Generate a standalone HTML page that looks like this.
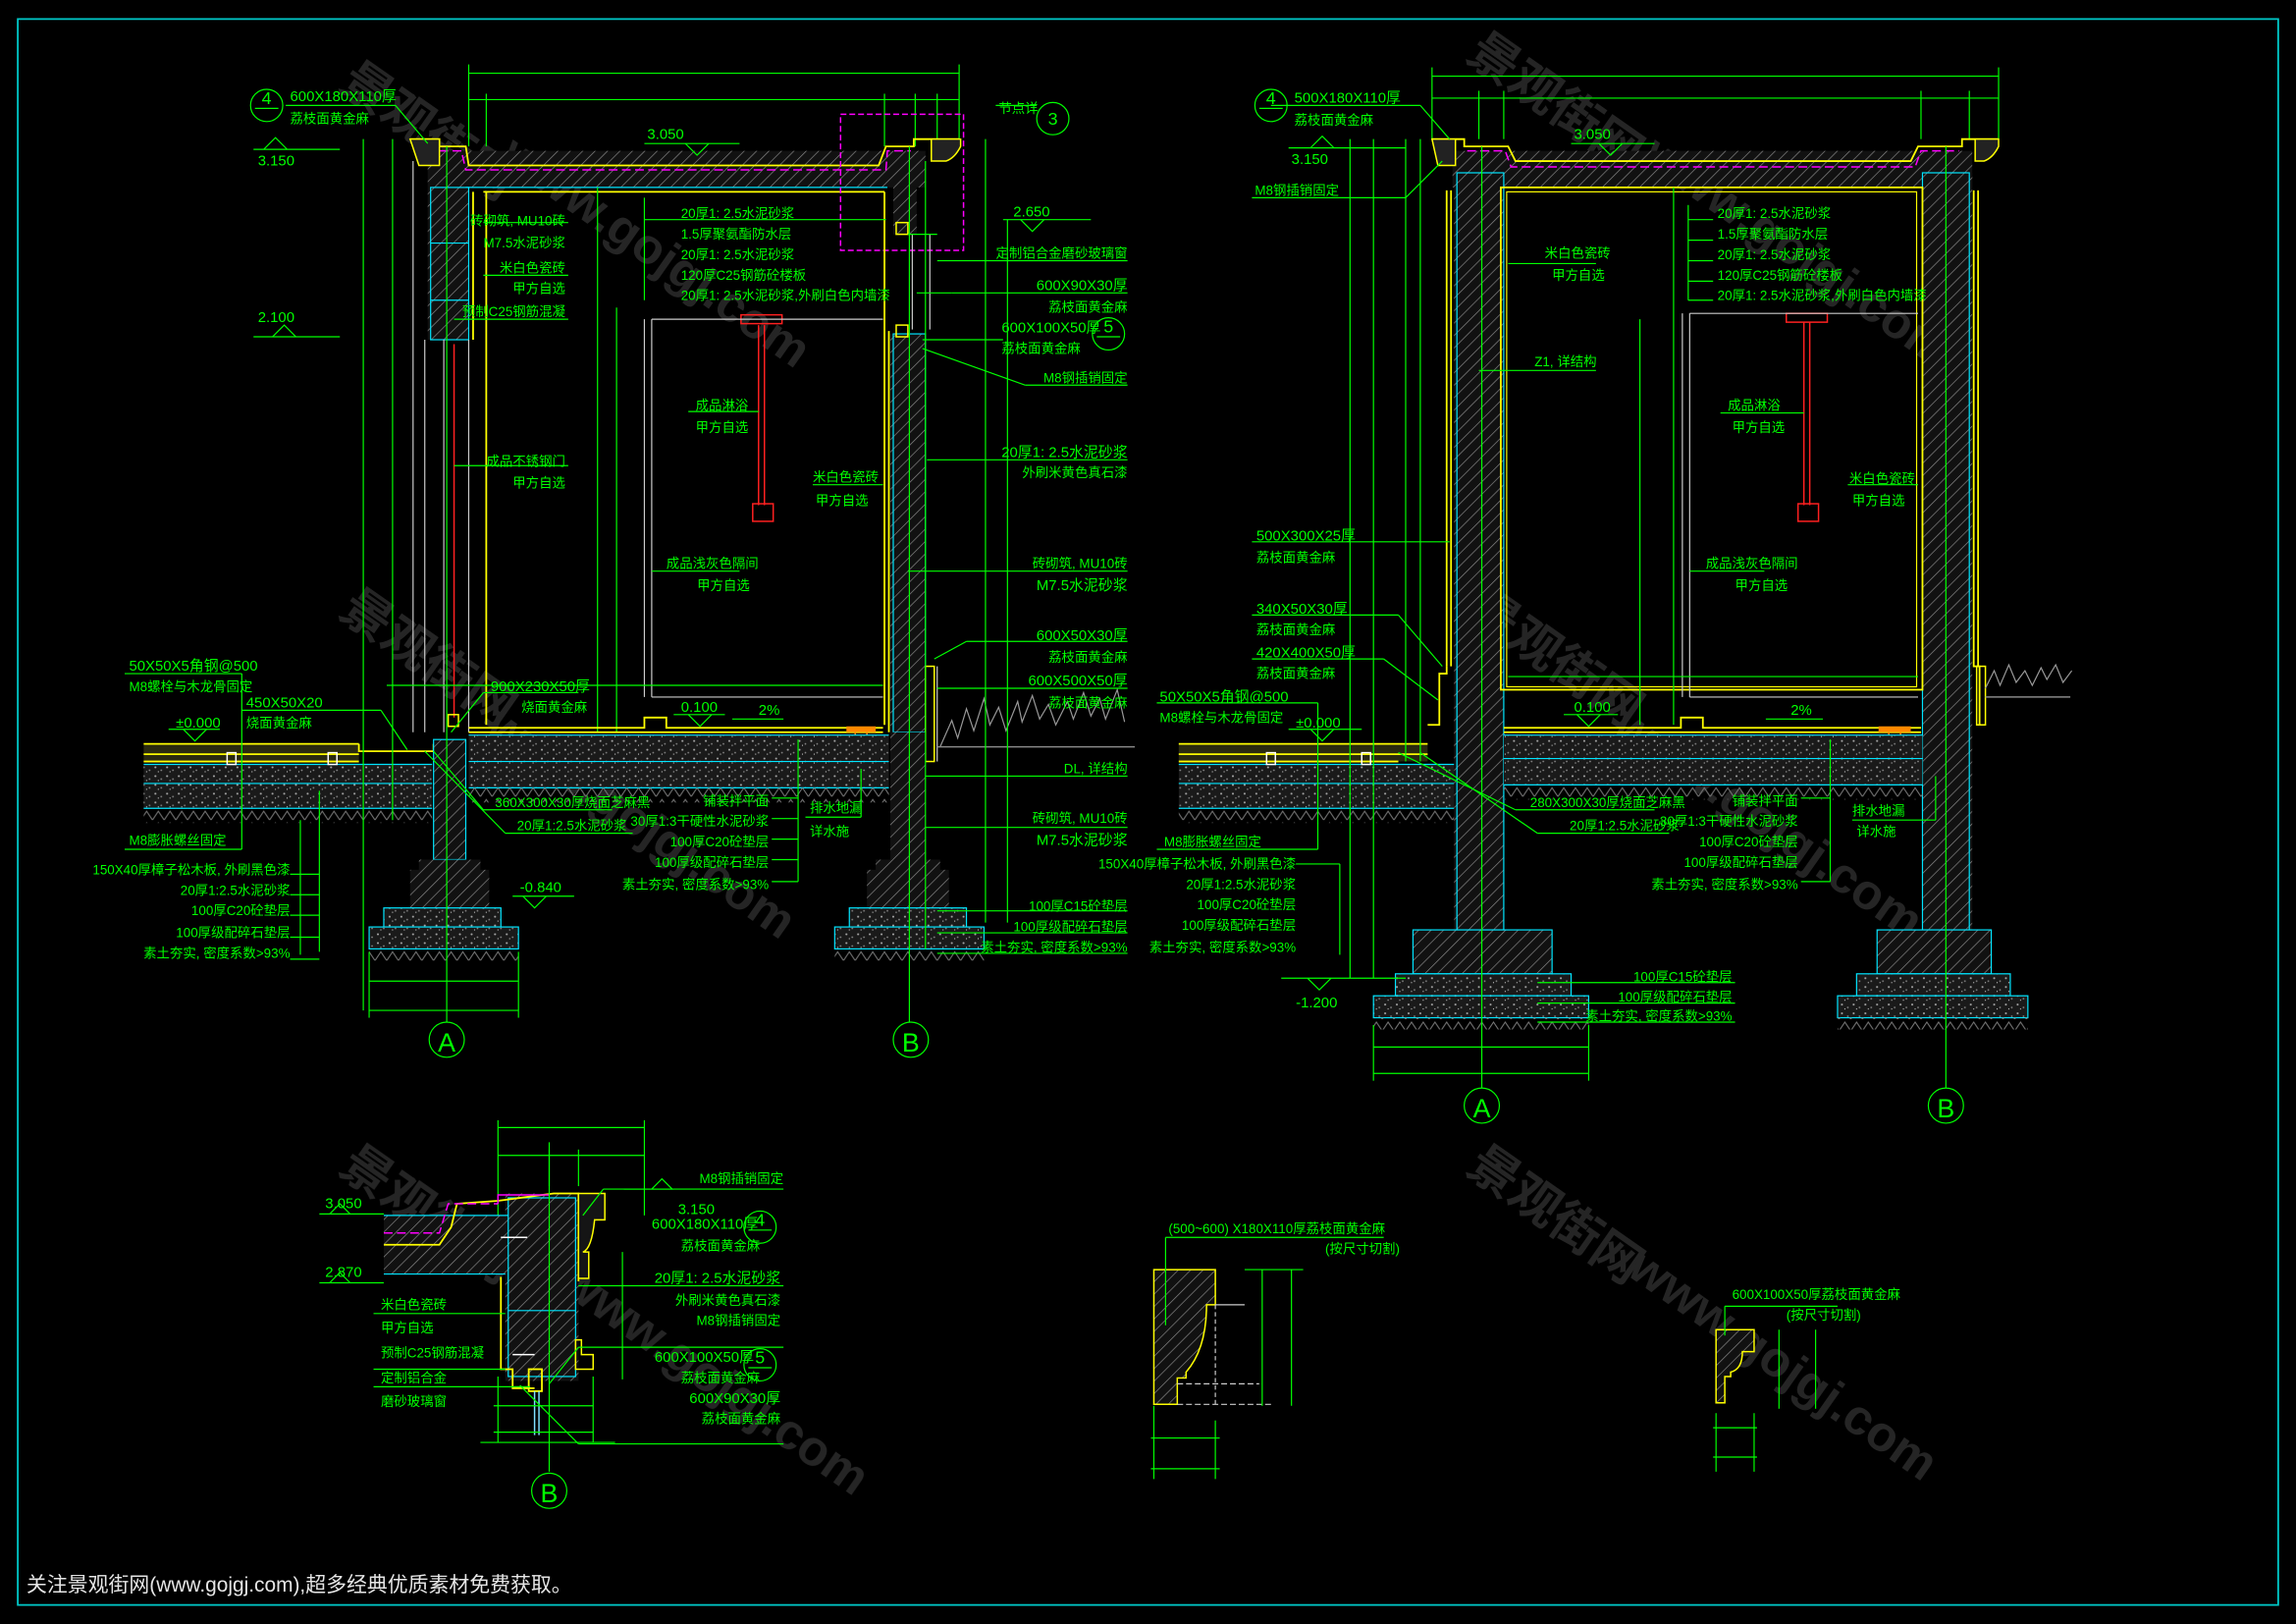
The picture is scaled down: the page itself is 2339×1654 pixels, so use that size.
<!DOCTYPE html>
<html><head><meta charset="utf-8"><style>
html,body{margin:0;padding:0;background:#000;width:2339px;height:1654px;overflow:hidden}
svg{display:block}
text{font-family:"Liberation Sans","Noto Sans CJK SC",sans-serif;fill:#00ff00;font-size:9px}
.r{text-anchor:end}
.g{stroke:#00ff00;stroke-width:0.8;fill:none}
.c{stroke:#00e5ff;stroke-width:0.8;fill:none}
.y{stroke:#ffff00;stroke-width:1.2;fill:none}
.w{stroke:#cccccc;stroke-width:0.8;fill:none}
.m{stroke:#ff00ff;stroke-width:1;fill:none}
.rd{stroke:#ff2020;stroke-width:1;fill:none}
.h{fill:url(#hatch)}
.gv{fill:url(#grav)}
.wm{fill:#2a2a2a;font-size:34px;font-weight:bold}
</style></head><body>
<svg width="2339" height="1654" viewBox="0 0 1568 1109" xmlns="http://www.w3.org/2000/svg">
<defs>
<pattern id="hatch" width="6" height="6" patternUnits="userSpaceOnUse" patternTransform="rotate(45)">
<rect width="6" height="6" fill="#111"/><line x1="0" y1="0" x2="0" y2="6" stroke="#8a8a8a" stroke-width="0.9"/></pattern>
<pattern id="grav" width="8" height="6" patternUnits="userSpaceOnUse">
<rect width="8" height="6" fill="#1a1a1a"/><circle cx="2" cy="2" r="0.7" fill="#aaa"/><circle cx="6" cy="4" r="0.6" fill="#888"/><circle cx="4" cy="5" r="0.4" fill="#ccc"/></pattern>
<pattern id="soil" width="8" height="8" patternUnits="userSpaceOnUse">
<path d="M0 8 L4 2 L8 8" stroke="#777" stroke-width="0.7" fill="none"/></pattern>
</defs>
<rect x="0" y="0" width="1568" height="1109" fill="#000"/>
<rect x="12" y="13" width="1544" height="1083" fill="none" stroke="#00c8c8" stroke-width="1.2"/>

<!-- watermarks -->
<g opacity="0.9">
<text class="wm" transform="translate(230,60) rotate(35)">景观街网</text>
<text class="wm" transform="translate(340,110) rotate(35)">www.gojgj.com</text>
<text class="wm" transform="translate(230,420) rotate(35)">景观街网</text>
<text class="wm" transform="translate(330,500) rotate(35)">www.gojgj.com</text>
<text class="wm" transform="translate(1000,40) rotate(35)">景观街网</text>
<text class="wm" transform="translate(1120,110) rotate(35)">www.gojgj.com</text>
<text class="wm" transform="translate(1000,420) rotate(35)">景观街网</text>
<text class="wm" transform="translate(1100,500) rotate(35)">www.gojgj.com</text>
<text class="wm" transform="translate(230,800) rotate(35)">景观街网</text>
<text class="wm" transform="translate(380,880) rotate(35)">www.gojgj.com</text>
<text class="wm" transform="translate(1000,800) rotate(35)">景观街网</text>
<text class="wm" transform="translate(1110,870) rotate(35)">www.gojgj.com</text>
</g>

<!-- ================= SECTION 1 ================= -->
<g>
<!-- top dims -->
<line class="g" x1="320" y1="50" x2="655" y2="50"/><line class="g" x1="320" y1="68" x2="655" y2="68"/>
<line class="g" x1="320" y1="44" x2="320" y2="100"/><line class="g" x1="655" y1="44" x2="655" y2="100"/>
<line class="g" x1="332" y1="64" x2="332" y2="100"/><line class="g" x1="604" y1="64" x2="604" y2="100"/><line class="g" x1="625" y1="64" x2="625" y2="100"/><line class="g" x1="640" y1="64" x2="640" y2="100"/>
<!-- roof slab -->
<rect class="h" x="292" y="103" width="340" height="25"/>
<polyline class="y" points="280,95 300,95 300,100 318,100 320,113 600,113 605,100 624,100 624,95 655,95"/>
<polyline class="m" points="300,103 315,103 318,116 605,116 606,103 622,103" stroke-dasharray="6,3"/>
<path d="M280 95 h20 v18 h-14 z" fill="#222" stroke="#ffff00" stroke-width="1"/>
<path d="M636 95 h20 v5 q-4 8 -10 10 h-10 z" fill="#222" stroke="#ffff00" stroke-width="1"/>
<line class="c" x1="318" y1="128" x2="606" y2="128"/><line class="y" x1="330" y1="131" x2="604" y2="131"/>
<!-- left upper wall -->
<rect class="h" x="292" y="128" width="28" height="104"/>
<rect class="c" x="294" y="128" width="26" height="104"/>
<line class="c" x1="294" y1="166" x2="320" y2="166"/><line class="c" x1="294" y1="205" x2="320" y2="205"/>
<line class="y" x1="323" y1="131" x2="323" y2="232"/>
<line class="w" x1="282" y1="110" x2="282" y2="500"/><line class="w" x1="290" y1="232" x2="290" y2="500"/>
<line class="w" x1="303" y1="232" x2="303" y2="500"/><line class="w" x1="320" y1="232" x2="320" y2="500"/>
<line class="rd" x1="310" y1="235" x2="310" y2="490"/>
<rect x="306" y="488" width="7" height="8" fill="none" stroke="#ffff00"/>
<line class="y" x1="332" y1="131" x2="332" y2="495"/>
<!-- right wall -->
<rect class="h" x="610" y="128" width="16" height="32"/>
<rect class="m" x="574" y="78" width="84" height="93" stroke-dasharray="4,2"/>
<rect class="h" x="608" y="228" width="24" height="272"/>
<rect class="c" x="610" y="228" width="22" height="272"/>
<line class="y" x1="604" y1="131" x2="604" y2="495"/>
<line class="y" x1="607" y1="226" x2="607" y2="500"/>
<rect x="612" y="152" width="8" height="8" fill="none" stroke="#ffff00"/><rect x="612" y="222" width="8" height="8" fill="none" stroke="#ffff00"/>
<line class="w" x1="623" y1="160" x2="623" y2="225"/><line class="w" x1="635" y1="160" x2="635" y2="225"/>
<rect x="632" y="455" width="6" height="65" fill="none" stroke="#ffff00"/>
<line class="w" x1="640" y1="455" x2="640" y2="520"/>
<!-- shower -->
<line class="rd" x1="518" y1="222" x2="518" y2="345"/><line class="rd" x1="522" y1="222" x2="522" y2="345"/>
<rect x="506" y="215" width="28" height="6" fill="none" stroke="#ff2020"/>
<rect x="514" y="344" width="14" height="12" fill="none" stroke="#ff2020"/>
<!-- partition -->
<line class="w" x1="440" y1="218" x2="440" y2="476"/><line class="w" x1="445" y1="218" x2="445" y2="476"/>
<line class="w" x1="445" y1="218" x2="603" y2="218"/><line class="w" x1="445" y1="476" x2="603" y2="476"/>
<line class="g" x1="408" y1="128" x2="408" y2="500"/><line class="g" x1="421" y1="210" x2="421" y2="500"/>
<line class="g" x1="264" y1="468" x2="603" y2="468"/>
<!-- floor -->
<polyline class="y" points="320,497 440,497 440,490 455,490 455,497 603,497"/>
<line class="y" x1="320" y1="500" x2="603" y2="500"/>
<rect x="578" y="496" width="20" height="4" fill="#ff8800"/>
<line stroke="#ff8800" x1="584" y1="500" x2="584" y2="525"/><line stroke="#ff8800" x1="592" y1="500" x2="592" y2="525"/>
<!-- interior ground -->
<rect class="gv" x="320" y="502" width="287" height="36"/>
<line class="c" x1="320" y1="502" x2="607" y2="502"/><line class="c" x1="320" y1="520" x2="607" y2="520"/><line class="c" x1="320" y1="538" x2="607" y2="538"/>
<rect fill="url(#soil)" x="320" y="538" width="287" height="10"/>
<!-- left paving -->
<rect x="98" y="508" width="147" height="12" fill="#2a2a10"/>
<line class="y" x1="98" y1="508" x2="245" y2="508"/><line class="y" x1="98" y1="515" x2="245" y2="515"/><line class="y" x1="98" y1="520" x2="245" y2="520"/>
<polyline class="y" points="245,508 245,513 296,513 296,508"/>
<rect class="gv" x="98" y="522" width="197" height="30"/>
<line class="c" x1="98" y1="522" x2="295" y2="522"/><line class="c" x1="98" y1="535" x2="295" y2="535"/><line class="c" x1="98" y1="552" x2="295" y2="552"/>
<rect fill="url(#soil)" x="98" y="552" width="197" height="10"/>
<rect x="155" y="514" width="6" height="8" fill="none" stroke="#fff"/><rect x="224" y="514" width="6" height="8" fill="none" stroke="#fff"/>
<!-- footing A -->
<rect class="h" x="296" y="505" width="22" height="82"/><rect class="c" x="296" y="505" width="22" height="82"/>
<path class="h" d="M286 587 h42 v7 h6 v26 h-54 v-26 h6 z"/>
<rect class="gv" x="262" y="620" width="80" height="13"/><rect class="c" x="262" y="620" width="80" height="13"/>
<rect class="gv" x="252" y="633" width="102" height="15"/><rect class="c" x="252" y="633" width="102" height="15"/>
<rect fill="url(#soil)" x="252" y="648" width="102" height="8"/>
<!-- footing B -->
<rect class="h" x="608" y="500" width="24" height="87"/>
<path class="h" d="M598 587 h44 v7 h6 v26 h-56 v-26 h6 z"/>
<rect class="gv" x="580" y="620" width="80" height="13"/><rect class="c" x="580" y="620" width="80" height="13"/>
<rect class="gv" x="570" y="633" width="102" height="15"/><rect class="c" x="570" y="633" width="102" height="15"/>
<rect fill="url(#soil)" x="570" y="648" width="102" height="8"/>
<!-- grass -->
<path d="M642 510 l8-18 l4 12 l6-20 l5 15 l7-22 l4 18 l6-12 l5 16 l8-20 l3 14 l7-18 l5 16 l6-10 l5 14 l8-16 l4 12 l7-18 l5 16 l6-12 l4 14 l8-20 l5 22" stroke="#999" stroke-width="0.8" fill="none"/>
<line x1="640" y1="510" x2="775" y2="510" stroke="#888" stroke-width="1"/>
<!-- axis -->
<line class="g" x1="305" y1="100" x2="305" y2="698"/><line class="g" x1="621" y1="100" x2="621" y2="698"/>
<circle cx="305" cy="710" r="12" class="g"/><text x="305" y="718" text-anchor="middle" style="font-size:18px">A</text>
<circle cx="622" cy="710" r="12" class="g"/><text x="622" y="718" text-anchor="middle" style="font-size:18px">B</text>
<line class="g" x1="252" y1="670" x2="354" y2="670"/><line class="g" x1="252" y1="690" x2="354" y2="690"/>
<line class="g" x1="252" y1="650" x2="252" y2="695"/><line class="g" x1="354" y1="650" x2="354" y2="695"/>
<!-- left vertical dims -->
<line class="g" x1="248" y1="95" x2="248" y2="690"/><line class="g" x1="268" y1="95" x2="268" y2="560"/><line class="g" x1="218" y1="540" x2="218" y2="650"/><line class="g" x1="205" y1="560" x2="205" y2="652"/>
<line class="g" x1="632" y1="110" x2="632" y2="648"/><line class="g" x1="673" y1="95" x2="673" y2="630"/><line class="g" x1="688" y1="150" x2="688" y2="630"/>
<line class="g" x1="173" y1="102" x2="232" y2="102"/><path class="g" d="M180 102 l8 -8 l8 8"/>
<line class="g" x1="173" y1="230" x2="232" y2="230"/><path class="g" d="M186 230 l8 -8 l8 8"/>
<line class="g" x1="440" y1="98" x2="505" y2="98"/><path class="g" d="M468 98 l8 8 l8 -8"/>
<line class="g" x1="685" y1="150" x2="745" y2="150"/><path class="g" d="M697 150 l8 8 l8 -8"/>
<line class="g" x1="460" y1="488" x2="495" y2="488"/><path class="g" d="M470 488 l8 8 l8 -8"/>
<line class="g" x1="500" y1="491" x2="535" y2="491"/>
<line class="g" x1="115" y1="498" x2="150" y2="498"/><path class="g" d="M125 498 l8 8 l8 -8"/>
<line class="g" x1="350" y1="612" x2="392" y2="612"/><path class="g" d="M357 612 l8 8 l8 -8"/>
<!-- leaders -->
<line class="g" x1="440" y1="135" x2="440" y2="205"/>
<line class="g" x1="440" y1="150" x2="605" y2="150"/>
<line class="g" x1="195" y1="72" x2="270" y2="72"/><line class="g" x1="270" y1="72" x2="292" y2="98"/>
<line class="g" x1="330" y1="152" x2="388" y2="152"/><line class="g" x1="330" y1="188" x2="388" y2="188"/><line class="g" x1="310" y1="218" x2="388" y2="218"/>
<line class="g" x1="310" y1="318" x2="388" y2="318"/><line class="g" x1="445" y1="390" x2="505" y2="390"/>
<line class="g" x1="470" y1="281" x2="518" y2="281"/><line class="g" x1="555" y1="331" x2="603" y2="331"/>
<line class="g" x1="620" y1="160" x2="640" y2="160"/><line class="g" x1="640" y1="178" x2="770" y2="178"/><line class="g" x1="626" y1="200" x2="650" y2="200"/><line class="g" x1="650" y1="200" x2="770" y2="200"/>
<line class="g" x1="630" y1="232" x2="685" y2="232"/><line class="g" x1="630" y1="238" x2="700" y2="263"/><line class="g" x1="700" y1="263" x2="770" y2="263"/>
<line class="g" x1="633" y1="314" x2="770" y2="314"/><line class="g" x1="620" y1="390" x2="770" y2="390"/>
<line class="g" x1="638" y1="450" x2="660" y2="438"/><line class="g" x1="660" y1="438" x2="770" y2="438"/><line class="g" x1="640" y1="470" x2="770" y2="470"/>
<line class="g" x1="632" y1="530" x2="770" y2="530"/><line class="g" x1="632" y1="565" x2="770" y2="565"/>
<line class="g" x1="640" y1="622" x2="770" y2="622"/><line class="g" x1="640" y1="637" x2="770" y2="637"/><line class="g" x1="640" y1="651" x2="770" y2="651"/>
<line class="g" x1="85" y1="460" x2="165" y2="460"/><line class="g" x1="165" y1="460" x2="165" y2="580"/><line class="g" x1="85" y1="580" x2="165" y2="580"/>
<line class="g" x1="165" y1="485" x2="260" y2="485"/><line class="g" x1="260" y1="485" x2="278" y2="512"/>
<line class="g" x1="330" y1="473" x2="395" y2="473"/><line class="g" x1="330" y1="473" x2="308" y2="500"/>
<line class="g" x1="296" y1="513" x2="330" y2="553"/><line class="g" x1="330" y1="553" x2="418" y2="553"/>
<line class="g" x1="290" y1="513" x2="345" y2="569"/><line class="g" x1="345" y1="569" x2="432" y2="569"/>
<line class="g" x1="198" y1="597" x2="218" y2="597"/><line class="g" x1="198" y1="611" x2="218" y2="611"/><line class="g" x1="198" y1="625" x2="218" y2="625"/><line class="g" x1="198" y1="640" x2="218" y2="640"/><line class="g" x1="198" y1="655" x2="218" y2="655"/>
<line class="g" x1="527" y1="545" x2="545" y2="545"/><line class="g" x1="527" y1="559" x2="545" y2="559"/><line class="g" x1="527" y1="573" x2="545" y2="573"/><line class="g" x1="527" y1="587" x2="545" y2="587"/><line class="g" x1="527" y1="602" x2="545" y2="602"/><line class="g" x1="545" y1="505" x2="545" y2="602"/>
<line class="g" x1="550" y1="558" x2="588" y2="558"/><line class="g" x1="588" y1="525" x2="588" y2="558"/>
<circle cx="182" cy="72" r="11" class="g"/><text x="182" y="71" text-anchor="middle" style="font-size:12px">4</text><line class="g" x1="174" y1="74" x2="190" y2="74"/>
<circle cx="719" cy="81" r="11" class="g"/><text x="719" y="85" text-anchor="middle" style="font-size:12px">3</text><line class="g" x1="680" y1="72" x2="708" y2="72"/>
<circle cx="757" cy="228" r="11" class="g"/><text x="757" y="227" text-anchor="middle" style="font-size:12px">5</text><line class="g" x1="749" y1="230" x2="765" y2="230"/>
</g>
<!-- S1 text -->
<text x="198" y="69" style="font-size:10px">600X180X110厚</text><text x="198" y="84">荔枝面黄金麻</text>
<text x="176" y="113" style="font-size:10px">3.150</text><text x="176" y="220" style="font-size:10px">2.100</text>
<text x="442" y="95" style="font-size:10px">3.050</text>
<text x="682" y="77">节点详</text>
<text x="692" y="148" style="font-size:10px">2.650</text>
<text x="465" y="149">20厚1: 2.5水泥砂浆</text><text x="465" y="163">1.5厚聚氨酯防水层</text><text x="465" y="177">20厚1: 2.5水泥砂浆</text><text x="465" y="191">120厚C25钢筋砼楼板</text><text x="465" y="205">20厚1: 2.5水泥砂浆,外刷白色内墙漆</text>
<text class="r" x="386" y="154">砖砌筑, MU10砖</text><text class="r" x="386" y="169">M7.5水泥砂浆</text><text class="r" x="386" y="186">米白色瓷砖</text><text class="r" x="386" y="200">甲方自选</text><text class="r" x="386" y="216">预制C25钢筋混凝</text>
<text x="475" y="280">成品淋浴</text><text x="475" y="295">甲方自选</text>
<text class="r" x="386" y="318">成品不锈钢门</text><text class="r" x="386" y="333">甲方自选</text>
<text x="555" y="329">米白色瓷砖</text><text x="557" y="345">甲方自选</text>
<text x="455" y="388">成品浅灰色隔间</text><text x="476" y="403">甲方自选</text>
<text x="465" y="486" style="font-size:10px">0.100</text><text x="518" y="488" style="font-size:10px">2%</text>
<text x="335" y="472" style="font-size:10px">900X230X50厚</text><text x="356" y="486">烧面黄金麻</text>
<text class="r" x="770" y="176">定制铝合金磨砂玻璃窗</text>
<text class="r" x="770" y="198" style="font-size:10px">600X90X30厚</text><text class="r" x="770" y="213">荔枝面黄金麻</text>
<text x="684" y="227" style="font-size:10px">600X100X50厚</text><text x="684" y="241">荔枝面黄金麻</text>
<text class="r" x="770" y="261">M8钢插销固定</text>
<text class="r" x="770" y="312" style="font-size:10px">20厚1: 2.5水泥砂浆</text><text class="r" x="770" y="326">外刷米黄色真石漆</text>
<text class="r" x="770" y="388">砖砌筑, MU10砖</text><text class="r" x="770" y="403" style="font-size:10px">M7.5水泥砂浆</text>
<text class="r" x="770" y="437" style="font-size:10px">600X50X30厚</text><text class="r" x="770" y="452">荔枝面黄金麻</text>
<text class="r" x="770" y="468" style="font-size:10px">600X500X50厚</text><text class="r" x="770" y="483">荔枝面黄金麻</text>
<text class="r" x="770" y="528">DL, 详结构</text>
<text class="r" x="770" y="562">砖砌筑, MU10砖</text><text class="r" x="770" y="577" style="font-size:10px">M7.5水泥砂浆</text>
<text class="r" x="770" y="622">100厚C15砼垫层</text><text class="r" x="770" y="636">100厚级配碎石垫层</text><text class="r" x="770" y="650">素土夯实, 密度系数&gt;93%</text>
<text x="88" y="458" style="font-size:10px">50X50X5角钢@500</text><text x="88" y="472">M8螺栓与木龙骨固定</text>
<text x="168" y="483" style="font-size:10px">450X50X20</text><text x="168" y="497">烧面黄金麻</text>
<text x="120" y="497" style="font-size:10px">±0.000</text>
<text x="88" y="577">M8膨胀螺丝固定</text>
<text class="r" x="198" y="597">150X40厚樟子松木板, 外刷黑色漆</text><text class="r" x="198" y="611">20厚1:2.5水泥砂浆</text><text class="r" x="198" y="625">100厚C20砼垫层</text><text class="r" x="198" y="640">100厚级配碎石垫层</text><text class="r" x="198" y="654">素土夯实, 密度系数&gt;93%</text>
<text x="338" y="551">360X300X30厚烧面芝麻黑</text><text x="353" y="567">20厚1:2.5水泥砂浆</text>
<text class="r" x="525" y="550">铺装拌平面</text><text class="r" x="525" y="564">30厚1:3干硬性水泥砂浆</text><text class="r" x="525" y="578">100厚C20砼垫层</text><text class="r" x="525" y="592">100厚级配碎石垫层</text><text class="r" x="525" y="607">素土夯实, 密度系数&gt;93%</text>
<text x="553" y="555">排水地漏</text><text x="553" y="571">详水施</text>
<text x="355" y="609" style="font-size:10px">-0.840</text>

<!-- ================= SECTION 2 ================= -->
<g>
<line class="g" x1="978" y1="52" x2="1365" y2="52"/><line class="g" x1="978" y1="67" x2="1365" y2="67"/>
<line class="g" x1="978" y1="46" x2="978" y2="95"/><line class="g" x1="1365" y1="46" x2="1365" y2="95"/>
<line class="g" x1="1010" y1="62" x2="1010" y2="95"/><line class="g" x1="1027" y1="62" x2="1027" y2="95"/><line class="g" x1="1312" y1="62" x2="1312" y2="95"/><line class="g" x1="1345" y1="62" x2="1345" y2="95"/>
<rect class="h" x="992" y="103" width="355" height="25"/>
<polyline class="y" points="978,95 1000,95 1000,100 1030,100 1035,110 1305,110 1310,100 1340,100 1340,95 1365,95"/>
<polyline class="m" points="1002,103 1028,103 1032,114 1308,114 1312,103 1338,103" stroke-dasharray="6,3"/>
<path d="M978 95 h16 v18 h-12 z" fill="#222" stroke="#ffff00" stroke-width="1"/>
<path d="M1349 95 h16 v5 q-4 8 -10 10 h-6 z" fill="#222" stroke="#ffff00" stroke-width="1"/>
<rect class="h" x="993" y="118" width="34" height="517"/><rect class="c" x="995" y="118" width="32" height="517"/>
<rect class="h" x="1313" y="118" width="34" height="517"/><rect class="c" x="1313" y="118" width="32" height="517"/>
<rect x="1025" y="128" width="288" height="343" fill="none" stroke="#ffff00" stroke-width="1.2"/>
<rect x="1029" y="131" width="280" height="338" fill="none" stroke="#ffff00" stroke-width="0.8"/>
<line class="y" x1="988" y1="130" x2="988" y2="455"/><line class="y" x1="991" y1="130" x2="991" y2="455"/>
<polyline class="y" points="988,455 988,460 983,460 983,495 975,495"/>
<polyline class="y" points="1348,130 1348,455 1352,455 1352,495"/><line class="y" x1="1351" y1="130" x2="1351" y2="455"/>
<rect x="1350" y="455" width="6" height="40" fill="none" stroke="#ffff00"/>
<!-- shower -->
<line class="rd" x1="1232" y1="220" x2="1232" y2="345"/><line class="rd" x1="1236" y1="220" x2="1236" y2="345"/>
<rect x="1220" y="214" width="28" height="6" fill="none" stroke="#ff2020"/>
<rect x="1228" y="344" width="14" height="12" fill="none" stroke="#ff2020"/>
<line class="w" x1="1149" y1="214" x2="1149" y2="476"/><line class="w" x1="1154" y1="214" x2="1154" y2="476"/>
<line class="w" x1="1154" y1="214" x2="1310" y2="214"/><line class="w" x1="1154" y1="476" x2="1310" y2="476"/>
<line class="g" x1="1030" y1="462" x2="1310" y2="462"/>
<polyline class="y" points="1027,497 1148,497 1148,490 1163,490 1163,497 1312,497"/>
<line class="y" x1="1027" y1="500" x2="1312" y2="500"/>
<rect x="1283" y="496" width="22" height="4" fill="#ff8800"/>
<line stroke="#ff8800" x1="1290" y1="500" x2="1290" y2="528"/><line stroke="#ff8800" x1="1298" y1="500" x2="1298" y2="528"/>
<rect class="gv" x="1027" y="502" width="286" height="34"/>
<line class="c" x1="1027" y1="502" x2="1313" y2="502"/><line class="c" x1="1027" y1="518" x2="1313" y2="518"/><line class="c" x1="1027" y1="536" x2="1313" y2="536"/>
<rect fill="url(#soil)" x="1027" y="536" width="286" height="10"/>
<rect x="805" y="508" width="170" height="12" fill="#2a2a10"/>
<line class="y" x1="805" y1="508" x2="975" y2="508"/><line class="y" x1="805" y1="515" x2="975" y2="515"/><line class="y" x1="805" y1="520" x2="955" y2="520"/>
<rect class="gv" x="805" y="522" width="188" height="30"/>
<line class="c" x1="805" y1="522" x2="993" y2="522"/><line class="c" x1="805" y1="535" x2="993" y2="535"/><line class="c" x1="805" y1="552" x2="993" y2="552"/>
<rect fill="url(#soil)" x="805" y="552" width="188" height="10"/>
<rect x="865" y="514" width="6" height="8" fill="none" stroke="#fff"/><rect x="930" y="514" width="6" height="8" fill="none" stroke="#fff"/>
<!-- footings -->
<rect class="h" x="965" y="635" width="95" height="30"/><rect class="c" x="965" y="635" width="95" height="30" stroke="#00e5ff"/>
<rect class="gv" x="953" y="665" width="120" height="15"/><rect class="c" x="953" y="665" width="120" height="15"/>
<rect class="gv" x="938" y="680" width="147" height="15"/><rect class="c" x="938" y="680" width="147" height="15"/>
<rect fill="url(#soil)" x="938" y="695" width="147" height="8"/>
<rect class="h" x="1282" y="635" width="78" height="30"/><rect class="c" x="1282" y="635" width="78" height="30"/>
<rect class="gv" x="1268" y="665" width="105" height="15"/><rect class="c" x="1268" y="665" width="105" height="15"/>
<rect class="gv" x="1255" y="680" width="130" height="15"/><rect class="c" x="1255" y="680" width="130" height="15"/>
<rect fill="url(#soil)" x="1255" y="695" width="130" height="8"/>
<path d="M1356 470 l6-12 l4 10 l6-14 l5 12 l6-8 l5 10 l6-12 l4 8 l6-10 l5 12 l6-8" stroke="#999" stroke-width="0.8" fill="none"/>
<line x1="1356" y1="476" x2="1414" y2="476" stroke="#888"/>
<line class="g" x1="1012" y1="100" x2="1012" y2="743"/><line class="g" x1="1329" y1="100" x2="1329" y2="743"/>
<circle cx="1012" cy="755" r="12" class="g"/><text x="1012" y="763" text-anchor="middle" style="font-size:18px">A</text>
<circle cx="1329" cy="755" r="12" class="g"/><text x="1329" y="763" text-anchor="middle" style="font-size:18px">B</text>
<line class="g" x1="938" y1="715" x2="1085" y2="715"/><line class="g" x1="938" y1="733" x2="1085" y2="733"/>
<line class="g" x1="938" y1="700" x2="938" y2="738"/><line class="g" x1="1085" y1="700" x2="1085" y2="738"/>
<line class="g" x1="922" y1="95" x2="922" y2="668"/><line class="g" x1="938" y1="95" x2="938" y2="668"/><line class="g" x1="960" y1="95" x2="960" y2="520"/><line class="g" x1="970" y1="95" x2="970" y2="520"/>
<line class="g" x1="1143" y1="128" x2="1143" y2="495"/><line class="g" x1="1120" y1="218" x2="1120" y2="495"/>
<line class="g" x1="1073" y1="98" x2="1130" y2="98"/><path class="g" d="M1092 98 l8 8 l8 -8"/>
<line class="g" x1="880" y1="101" x2="960" y2="101"/><path class="g" d="M895 101 l8 -8 l8 8"/>
<line class="g" x1="875" y1="668" x2="960" y2="668"/><path class="g" d="M893 668 l8 8 l8 -8"/>
<line class="g" x1="880" y1="498" x2="930" y2="498"/><path class="g" d="M895 498 l8 8 l8 -8"/>
<line class="g" x1="1068" y1="488" x2="1105" y2="488"/><path class="g" d="M1077 488 l8 8 l8 -8"/>
<line class="g" x1="1206" y1="491" x2="1245" y2="491"/>
<!-- leaders -->
<line class="g" x1="1153" y1="140" x2="1153" y2="205"/><line class="g" x1="1153" y1="150" x2="1170" y2="150"/><line class="g" x1="1153" y1="164" x2="1170" y2="164"/><line class="g" x1="1153" y1="178" x2="1170" y2="178"/><line class="g" x1="1153" y1="192" x2="1170" y2="192"/><line class="g" x1="1153" y1="205" x2="1170" y2="205"/>
<line class="g" x1="868" y1="72" x2="970" y2="72"/><line class="g" x1="970" y1="72" x2="990" y2="95"/>
<line class="g" x1="855" y1="135" x2="960" y2="135"/><line class="g" x1="960" y1="135" x2="985" y2="110"/>
<line class="g" x1="1030" y1="180" x2="1090" y2="180"/><line class="g" x1="1010" y1="253" x2="1090" y2="253"/>
<line class="g" x1="1175" y1="282" x2="1232" y2="282"/><line class="g" x1="1262" y1="331" x2="1310" y2="331"/><line class="g" x1="1154" y1="390" x2="1205" y2="390"/>
<line class="g" x1="855" y1="370" x2="990" y2="370"/><line class="g" x1="855" y1="420" x2="955" y2="420"/><line class="g" x1="955" y1="420" x2="985" y2="455"/>
<line class="g" x1="855" y1="450" x2="945" y2="450"/><line class="g" x1="945" y1="450" x2="982" y2="478"/>
<line class="g" x1="790" y1="480" x2="900" y2="480"/><line class="g" x1="900" y1="480" x2="900" y2="580"/><line class="g" x1="790" y1="580" x2="900" y2="580"/>
<line class="g" x1="955" y1="514" x2="1035" y2="553"/><line class="g" x1="1035" y1="553" x2="1130" y2="553"/>
<line class="g" x1="970" y1="514" x2="1050" y2="569"/><line class="g" x1="1050" y1="569" x2="1140" y2="569"/>
<line class="g" x1="885" y1="590" x2="915" y2="590"/><line class="g" x1="915" y1="590" x2="915" y2="652"/>
<line class="g" x1="1230" y1="545" x2="1250" y2="545"/><line class="g" x1="1230" y1="602" x2="1250" y2="602"/><line class="g" x1="1250" y1="505" x2="1250" y2="602"/>
<line class="g" x1="1265" y1="560" x2="1322" y2="560"/><line class="g" x1="1322" y1="530" x2="1322" y2="560"/>
<line class="g" x1="1050" y1="671" x2="1185" y2="671"/><line class="g" x1="1050" y1="685" x2="1185" y2="685"/><line class="g" x1="1050" y1="698" x2="1185" y2="698"/>
<circle cx="868" cy="72" r="11" class="g"/><text x="868" y="71" text-anchor="middle" style="font-size:12px">4</text><line class="g" x1="860" y1="74" x2="876" y2="74"/>
</g>
<text x="884" y="70" style="font-size:10px">500X180X110厚</text><text x="884" y="85">荔枝面黄金麻</text>
<text x="882" y="112" style="font-size:10px">3.150</text><text x="857" y="133">M8钢插销固定</text>
<text x="1075" y="95" style="font-size:10px">3.050</text>
<text x="1173" y="149">20厚1: 2.5水泥砂浆</text><text x="1173" y="163">1.5厚聚氨酯防水层</text><text x="1173" y="177">20厚1: 2.5水泥砂浆</text><text x="1173" y="191">120厚C25钢筋砼楼板</text><text x="1173" y="205">20厚1: 2.5水泥砂浆,外刷白色内墙漆</text>
<text x="1055" y="176">米白色瓷砖</text><text x="1060" y="191">甲方自选</text>
<text x="1048" y="250">Z1, 详结构</text>
<text x="1180" y="280">成品淋浴</text><text x="1183" y="295">甲方自选</text>
<text x="1263" y="330">米白色瓷砖</text><text x="1265" y="345">甲方自选</text>
<text x="1165" y="388">成品浅灰色隔间</text><text x="1185" y="403">甲方自选</text>
<text x="858" y="369" style="font-size:10px">500X300X25厚</text><text x="858" y="384">荔枝面黄金麻</text>
<text x="858" y="419" style="font-size:10px">340X50X30厚</text><text x="858" y="433">荔枝面黄金麻</text>
<text x="858" y="449" style="font-size:10px">420X400X50厚</text><text x="858" y="463">荔枝面黄金麻</text>
<text x="792" y="479" style="font-size:10px">50X50X5角钢@500</text><text x="792" y="493">M8螺栓与木龙骨固定</text>
<text x="885" y="497" style="font-size:10px">±0.000</text>
<text x="1075" y="486" style="font-size:10px">0.100</text><text x="1223" y="488" style="font-size:10px">2%</text>
<text x="795" y="578">M8膨胀螺丝固定</text>
<text class="r" x="885" y="593">150X40厚樟子松木板, 外刷黑色漆</text><text class="r" x="885" y="607">20厚1:2.5水泥砂浆</text><text class="r" x="885" y="621">100厚C20砼垫层</text><text class="r" x="885" y="635">100厚级配碎石垫层</text><text class="r" x="885" y="650">素土夯实, 密度系数&gt;93%</text>
<text x="1045" y="551">280X300X30厚烧面芝麻黑</text><text x="1072" y="567">20厚1:2.5水泥砂浆</text>
<text class="r" x="1228" y="550">铺装拌平面</text><text class="r" x="1228" y="564">30厚1:3干硬性水泥砂浆</text><text class="r" x="1228" y="578">100厚C20砼垫层</text><text class="r" x="1228" y="592">100厚级配碎石垫层</text><text class="r" x="1228" y="607">素土夯实, 密度系数&gt;93%</text>
<text x="1265" y="557">排水地漏</text><text x="1268" y="571">详水施</text>
<text class="r" x="1183" y="670">100厚C15砼垫层</text><text class="r" x="1183" y="684">100厚级配碎石垫层</text><text class="r" x="1183" y="697">素土夯实, 密度系数&gt;93%</text>
<text x="885" y="688" style="font-size:10px">-1.200</text>

<!-- ================= DETAIL ================= -->
<g>
<line class="g" x1="340" y1="770" x2="440" y2="770"/><line class="g" x1="340" y1="789" x2="440" y2="789"/>
<line class="g" x1="340" y1="765" x2="340" y2="830"/><line class="g" x1="440" y1="765" x2="440" y2="830"/><line class="g" x1="375" y1="785" x2="375" y2="810"/><line class="g" x1="395" y1="785" x2="395" y2="810"/>
<rect class="h" x="262" y="830" width="85" height="40"/>
<rect class="h" x="345" y="815" width="50" height="128"/>
<rect class="c" x="347" y="818" width="46" height="122" stroke-dasharray="0"/>
<line class="c" x1="262" y1="830" x2="347" y2="830"/><line class="c" x1="262" y1="870" x2="345" y2="870"/><line class="c" x1="347" y1="895" x2="393" y2="895"/>
<polyline class="y" points="262,850 300,850 308,838 312,822 340,820 378,815 395,815 395,875"/>
<polyline class="m" points="262,842 300,842 306,822 340,822"  stroke-dasharray="6,3"/>
<polyline class="m" points="340,822 340,816 375,816"/>
<path d="M395 815 h18 v18 h-7 q-2 20 -8 22 h4 v18 h-7 z" fill="#151515" stroke="#ffff00" stroke-width="1"/>
<polyline class="y" points="342,872 342,935 350,935 350,948 365,948"/>
<rect x="361" y="935" width="9" height="15" fill="none" stroke="#ffff00" stroke-width="1.2"/>
<path d="M393 935 h12 v-10 h-8 v-10 h-4 z" fill="none" stroke="#ffff00"/>
<line x1="365" y1="950" x2="365" y2="980" stroke="#7fdfff"/><line x1="368" y1="950" x2="368" y2="980" stroke="#7fdfff"/>
<line x1="342" y1="845" x2="360" y2="845" stroke="#fff"/><line x1="350" y1="925" x2="365" y2="925" stroke="#fff"/>
<line class="g" x1="375" y1="780" x2="375" y2="1005"/>
<circle cx="375" cy="1018" r="12" class="g"/><text x="375" y="1026" text-anchor="middle" style="font-size:18px">B</text>
<line class="g" x1="337" y1="960" x2="405" y2="960"/><line class="g" x1="337" y1="978" x2="405" y2="978"/><line class="g" x1="340" y1="940" x2="340" y2="985"/><line class="g" x1="405" y1="940" x2="405" y2="985"/>
<line class="g" x1="328" y1="985" x2="420" y2="985"/>
<line class="g" x1="218" y1="829" x2="262" y2="829"/><path class="g" d="M225 829 l7 -7 l7 7"/>
<line class="g" x1="218" y1="876" x2="262" y2="876"/><path class="g" d="M225 876 l7 -7 l7 7"/>
<line class="g" x1="412" y1="812" x2="535" y2="812"/><line class="g" x1="412" y1="812" x2="398" y2="830"/>
<line class="g" x1="426" y1="812" x2="460" y2="812"/><path class="g" d="M445 812 l7 -7 l7 7"/>
<line class="g" x1="395" y1="878" x2="535" y2="878"/><line class="g" x1="395" y1="920" x2="535" y2="920"/><line class="g" x1="395" y1="920" x2="375" y2="945"/>
<line class="g" x1="355" y1="946" x2="395" y2="986"/><line class="g" x1="395" y1="986" x2="535" y2="986"/>
<line class="g" x1="255" y1="897" x2="345" y2="897"/><line class="g" x1="255" y1="935" x2="345" y2="935"/><line class="g" x1="255" y1="947" x2="362" y2="947"/>
<line class="g" x1="425" y1="855" x2="425" y2="942"/>
<circle cx="519" cy="838" r="11" class="g"/><text x="519" y="837" text-anchor="middle" style="font-size:12px">4</text><line class="g" x1="511" y1="840" x2="527" y2="840"/>
<circle cx="519" cy="932" r="11" class="g"/><text x="519" y="931" text-anchor="middle" style="font-size:12px">5</text><line class="g" x1="511" y1="934" x2="527" y2="934"/>
</g>
<text class="r" x="535" y="808">M8钢插销固定</text>
<text x="463" y="829" style="font-size:10px">3.150</text>
<text x="445" y="839" style="font-size:10px">600X180X110厚</text><text x="465" y="854">荔枝面黄金麻</text>
<text class="r" x="533" y="876" style="font-size:10px">20厚1: 2.5水泥砂浆</text><text class="r" x="533" y="891">外刷米黄色真石漆</text><text class="r" x="533" y="905">M8钢插销固定</text>
<text x="447" y="930" style="font-size:10px">600X100X50厚</text><text x="465" y="944">荔枝面黄金麻</text>
<text class="r" x="533" y="958" style="font-size:10px">600X90X30厚</text><text class="r" x="533" y="972">荔枝面黄金麻</text>
<text x="222" y="825" style="font-size:10px">3.050</text><text x="222" y="872" style="font-size:10px">2.870</text>
<text x="260" y="894">米白色瓷砖</text><text x="260" y="910">甲方自选</text><text x="260" y="927">预制C25钢筋混凝</text><text x="260" y="944">定制铝合金</text><text x="260" y="960">磨砂玻璃窗</text>

<!-- profile 1 -->
<g>
<path d="M788 867 h42 v24 h-6 q0 30 -14 46 v4 h-6 v18 h-16 z" class="h" stroke="#ffff00" stroke-width="1"/>
<line class="w" x1="830" y1="891" x2="850" y2="891"/><line class="w" x1="830" y1="891" x2="830" y2="960" stroke-dasharray="3,2"/>
<line class="w" x1="804" y1="945" x2="860" y2="945" stroke-dasharray="4,2"/><line class="w" x1="804" y1="959" x2="870" y2="959" stroke-dasharray="4,2"/>
<line class="g" x1="796" y1="845" x2="945" y2="845"/><line class="g" x1="796" y1="845" x2="796" y2="905"/>
<line class="g" x1="862" y1="867" x2="862" y2="960"/><line class="g" x1="882" y1="867" x2="882" y2="960"/><line class="g" x1="850" y1="867" x2="890" y2="867"/>
<line class="g" x1="788" y1="960" x2="788" y2="1010"/><line class="g" x1="830" y1="970" x2="830" y2="1010"/>
<line class="g" x1="786" y1="982" x2="833" y2="982"/><line class="g" x1="786" y1="1003" x2="833" y2="1003"/>
</g>
<text x="798" y="842" style="font-size:9px">(500~600) X180X110厚荔枝面黄金麻</text>
<text x="905" y="856">(按尺寸切割)</text>
<!-- profile 2 -->
<g>
<path d="M1172 908 h26 v15 h-8 q0 12 -8 14 v3 h-4 v18 h-6 z" class="h" stroke="#ffff00" stroke-width="1"/>
<line class="g" x1="1178" y1="892" x2="1255" y2="892"/><line class="g" x1="1178" y1="892" x2="1178" y2="912"/>
<line class="g" x1="1215" y1="908" x2="1215" y2="962"/><line class="g" x1="1240" y1="908" x2="1240" y2="962"/>
<line class="g" x1="1172" y1="965" x2="1172" y2="1005"/><line class="g" x1="1198" y1="965" x2="1198" y2="1005"/>
<line class="g" x1="1170" y1="975" x2="1200" y2="975"/><line class="g" x1="1170" y1="995" x2="1200" y2="995"/>
</g>
<text x="1183" y="887" style="font-size:9px">600X100X50厚荔枝面黄金麻</text>
<text x="1220" y="901">(按尺寸切割)</text>

<text x="18" y="1087" style="font-size:14px;fill:#e6e6e6">关注景观街网(www.gojgj.com),超多经典优质素材免费获取。</text>
</svg>
</body></html>
